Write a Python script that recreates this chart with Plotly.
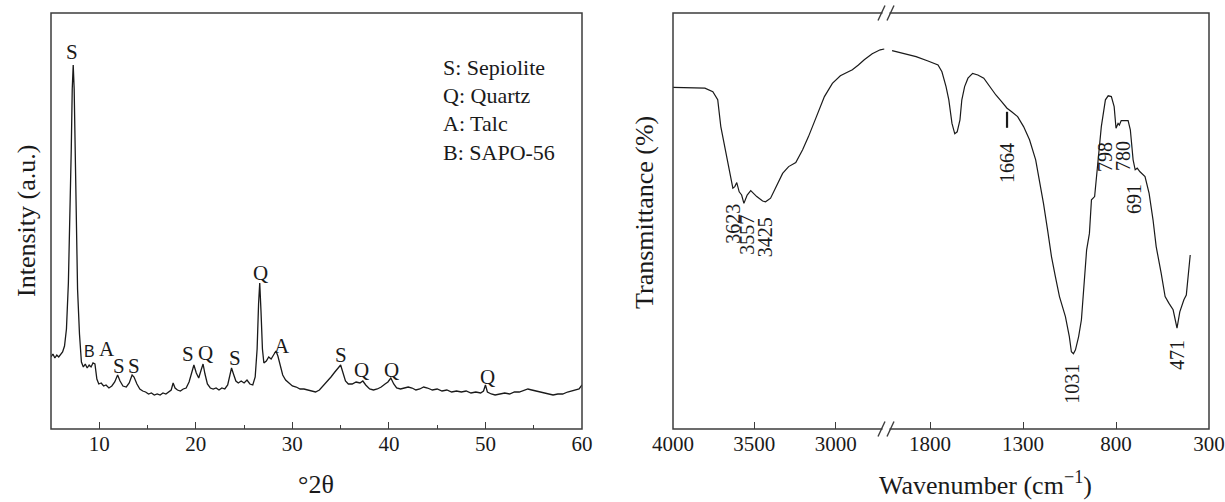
import plotly.graph_objects as go

W, H = 1225, 502
FONT = "Liberation Serif, Times New Roman, serif"
INK = "#1a1a1a"
FRAME = "#3c3c3c"

# ---------------- XRD pattern ----------------
xrd_2theta = [5.0, 5.2, 5.4, 5.6, 5.8, 6.0, 6.2, 6.4, 6.6, 6.8, 6.95, 7.1, 7.2, 7.3, 7.4, 7.5, 7.6,
              7.75, 7.95, 8.15, 8.35, 8.55, 8.75, 8.95, 9.15, 9.35, 9.55, 9.75, 9.95, 10.2, 10.45,
              10.7, 11.0, 11.3, 11.6, 11.9, 12.15, 12.45, 12.8, 13.1, 13.4, 13.6, 13.9, 14.2, 14.5,
              14.8, 15.1, 15.4, 15.7, 16.0, 16.3, 16.6, 16.9, 17.2, 17.45, 17.65, 17.85, 18.1, 18.4,
              18.7, 19.0, 19.3, 19.55, 19.8, 20.05, 20.3, 20.55, 20.75, 20.95, 21.2, 21.5, 21.8,
              22.1, 22.4, 22.7, 23.0, 23.3, 23.5, 23.7, 23.9, 24.15, 24.4, 24.7, 25.0, 25.3, 25.6,
              25.9, 26.15, 26.35, 26.5, 26.62, 26.75, 26.9, 27.05, 27.3, 27.55, 27.8, 28.05, 28.3,
              28.5, 28.75, 29.0, 29.3, 29.6, 30.0, 30.4, 30.8, 31.2, 31.6, 32.0, 32.4, 32.8, 33.2,
              33.6, 34.0, 34.4, 34.7, 35.0, 35.25, 35.5, 35.8, 36.2, 36.6, 37.0, 37.3, 37.6, 38.0,
              38.4, 38.8, 39.2, 39.6, 39.9, 40.2, 40.5, 40.8, 41.2, 41.6, 42.0, 42.4, 42.8, 43.2,
              43.6, 44.0, 44.5, 45.0, 45.5, 46.0, 46.5, 47.0, 47.5, 48.0, 48.5, 49.0, 49.5, 49.8,
              50.0, 50.2, 50.6, 51.0, 51.5, 52.0, 52.5, 53.0, 53.5, 54.0, 54.4, 54.8, 55.2, 55.6,
              56.0, 56.5, 57.0, 57.5, 58.0, 58.5, 59.0, 59.4, 59.7, 60.0]
xrd_intensity = [72, 75, 71, 74, 72, 75, 77, 83, 100, 146, 200, 280, 340, 364, 340, 270, 200,
                 140, 95, 67, 62, 65, 61, 64, 62, 66, 65, 50, 45, 46, 43,
                 44, 41, 43, 47, 54, 48, 43, 42, 46, 54, 52, 45, 40, 38,
                 37, 35, 36, 34, 35, 34, 36, 35, 37, 39, 46, 41, 39, 38,
                 40, 41, 47, 56, 64, 56, 51, 59, 65, 55, 45, 41, 40,
                 41, 39, 41, 40, 44, 52, 61, 55, 48, 46, 48, 46, 49, 45,
                 44, 52, 80, 125, 146, 118, 80, 66, 68, 72, 70, 74, 78,
                 73, 62, 54, 49, 46, 43, 42, 40, 40, 39, 38, 37, 39, 43,
                 48, 52, 57, 60, 64, 56, 48, 45, 45, 47, 46, 48, 44, 40,
                 39, 40, 42, 45, 47, 51, 45, 41, 40, 41, 42, 41, 39, 40,
                 42, 41, 39, 40, 38, 39, 37, 38, 37, 38, 36, 37, 36, 38,
                 44, 37, 35, 34, 35, 36, 35, 37, 37, 39, 40, 39, 38, 37,
                 36, 35, 34, 35, 35, 37, 38, 39, 40, 44]

# phase markers above the reflections
xrd_mark_2theta = [7.18, 10.81, 12.0, 13.58, 19.24, 21.02, 24.06, 26.71, 28.93, 35.06, 37.15, 40.28, 50.2]
xrd_mark_intensity = [377, 80, 63, 63, 75, 76, 71.5, 156, 83, 74, 59, 59, 52]
xrd_mark_text = ["S", "A", "S", "S", "S", "Q", "S", "Q", "A", "S", "Q", "Q", "Q"]
xrd_b_2theta, xrd_b_intensity = 9.03, 78

legend_lines = ["S: Sepiolite", "Q: Quartz", "A: Talc", "B: SAPO-56"]

# ---------------- FTIR spectrum ----------------
# 4000 - 2700 cm-1 segment
ftir_hi_wn = [4000, 3804, 3755, 3725, 3706, 3681, 3652, 3632, 3620, 3608, 3593, 3578, 3564, 3544,
              3522, 3485, 3449, 3431, 3400, 3363, 3326, 3289, 3245, 3203, 3167, 3118, 3069, 3020,
              2971, 2922, 2897, 2860, 2824, 2775, 2726, 2701]
ftir_hi_t = [85.4, 85.2, 84.3, 82.3, 75.6, 70.6, 64.8, 60.2, 60.6, 61.6, 59.3, 58.5, 56.4, 58.5,
             59.6, 58.1, 57.0, 56.8, 57.7, 60.6, 63.9, 65.6, 66.6, 69.8, 73.1, 78.1, 83.1, 86.4,
             88.3, 89.3, 89.8, 91.0, 92.3, 93.8, 94.8, 95.0]
# 2000 - 400 cm-1 segment
ftir_lo_wn = [2004, 1939, 1875, 1811, 1757, 1736, 1714, 1699, 1682, 1667, 1654, 1639, 1629, 1614,
              1596, 1571, 1543, 1511, 1479, 1446, 1414, 1386, 1361, 1329, 1297, 1265, 1232, 1211,
              1190, 1168, 1147, 1126, 1104, 1072, 1051, 1040, 1029, 1018, 1001, 986, 971, 958,
              943, 932, 915, 900, 879, 857, 842, 825, 810, 800, 789, 782, 772, 735, 723, 708,
              697, 686, 671, 644, 622, 601, 584, 557, 536, 515, 493, 472, 457, 435, 422, 401]
ftir_lo_t = [94.6, 93.9, 93.1, 92.0, 91.0, 89.3, 85.6, 82.3, 76.4, 73.8, 74.3, 77.3, 82.3, 85.6,
             87.7, 88.9, 88.5, 87.7, 85.6, 83.5, 81.8, 80.2, 79.3, 78.1, 75.6, 72.3, 67.3, 62.3,
             56.4, 49.8, 43.1, 38.1, 33.1, 28.1, 23.1, 19.3, 18.8, 19.8, 23.1, 27.3, 36.4, 44.8,
             48.9, 57.3, 58.1, 65.6, 75.6, 82.3, 83.3, 83.1, 80.6, 75.2, 76.4, 76.0, 77.1, 77.1, 74.8, 67.3,
             64.8, 65.2, 64.3, 63.1, 58.9, 52.3, 45.6, 38.9, 33.1, 31.4, 29.8, 25.2, 29.3, 32.3, 33.5, 43.5]

band_hi_text = ["3623", "3557", "3425"]
band_hi_wn = [3631, 3547, 3437]
band_hi_t = [51.3, 48.5, 47.8]
band_lo_text = ["1664", "1031", "798", "780", "691", "471"]
band_lo_wn = [1386, 1037, 859, 762, 703, 472]
band_lo_t = [66.5, 11.3, 68.0, 68.3, 57.5, 18.5]
marker_1664_wn = 1386
marker_1664_t = [79.3, 75.3]

xrd_ticks = [10, 20, 30, 40, 50, 60]
xrd_minor = [15, 25, 35, 45, 55]
ftir_hi_ticks = [4000, 3500, 3000]
ftir_lo_ticks = [1800, 1300, 800, 300]

# ---------------- layout geometry (pixels) ----------------
L_X0, L_X1 = 51, 582
R_X0, R_XB, R_X1 = 673, 888, 1209
P_TOP, P_BOT = 13, 429


def px(x):
    return x / W


def py(y):
    return 1 - y / H


fig = go.Figure()

fig.add_trace(go.Scatter(x=xrd_2theta, y=xrd_intensity, mode="lines",
                         line=dict(color=INK, width=1.3), xaxis="x", yaxis="y",
                         showlegend=False, hoverinfo="skip"))
fig.add_trace(go.Scatter(x=ftir_hi_wn, y=ftir_hi_t, mode="lines",
                         line=dict(color=INK, width=1.2), xaxis="x2", yaxis="y2",
                         showlegend=False, hoverinfo="skip"))
fig.add_trace(go.Scatter(x=ftir_lo_wn, y=ftir_lo_t, mode="lines",
                         line=dict(color=INK, width=1.2), xaxis="x3", yaxis="y2",
                         showlegend=False, hoverinfo="skip"))
# short bar marking the 1664 band
fig.add_trace(go.Scatter(x=[marker_1664_wn, marker_1664_wn], y=marker_1664_t, mode="lines",
                         line=dict(color=INK, width=2.2), xaxis="x3", yaxis="y2",
                         showlegend=False, hoverinfo="skip"))

annotations = []
for t, x, y in zip(xrd_mark_text, xrd_mark_2theta, xrd_mark_intensity):
    annotations.append(dict(x=x, y=y, xref="x", yref="y", text=t, showarrow=False,
                            xanchor="center", yanchor="middle",
                            font=dict(family=FONT, size=21, color=INK)))
annotations.append(dict(x=xrd_b_2theta, y=xrd_b_intensity, xref="x", yref="y", text="B",
                        showarrow=False, xanchor="center", yanchor="middle",
                        font=dict(family="Liberation Sans", size=16, color=INK)))

for i, line in enumerate(legend_lines):
    annotations.append(dict(x=px(441), y=py(67 + 28.4 * i), xref="paper", yref="paper",
                            text=line, showarrow=False, xanchor="left", yanchor="middle",
                            font=dict(family=FONT, size=22, color=INK)))

for t, x, y in zip(band_hi_text, band_hi_wn, band_hi_t):
    annotations.append(dict(x=x, y=y, xref="x2", yref="y2", text=t, textangle=-90,
                            showarrow=False, xanchor="center", yanchor="middle",
                            font=dict(family=FONT, size=20, color=INK)))
for t, x, y in zip(band_lo_text, band_lo_wn, band_lo_t):
    annotations.append(dict(x=x, y=y, xref="x3", yref="y2", text=t, textangle=-90,
                            showarrow=False, xanchor="center", yanchor="middle",
                            font=dict(family=FONT, size=20, color=INK)))

# axis titles
title_font = dict(family=FONT, size=26, color=INK)
title_common = dict(xref="paper", yref="paper", showarrow=False, font=title_font,
                    xanchor="center", yanchor="middle")
annotations += [
    dict(x=px(26), y=py(221), text="Intensity (a.u.)", textangle=-90, **title_common),
    dict(x=px(316), y=py(484), text="°2θ", **title_common),
    dict(x=px(644), y=py(213), text="Transmittance (%)", textangle=-90, **title_common),
    dict(x=px(985), y=py(483), text="Wavenumber (cm<sup>−1</sup>)", **title_common),
]

shapes = []
frame_line = dict(color=FRAME, width=1.5)
for x0, x1 in [(L_X0, L_X1), (R_X0, R_X1)]:
    shapes.append(dict(type="rect", xref="paper", yref="paper", x0=px(x0), x1=px(x1),
                       y0=py(P_BOT), y1=py(P_TOP), line=frame_line, layer="above"))

# axis break marks on the top and bottom edges
for yb in (P_TOP, P_BOT):
    shapes.append(dict(type="rect", xref="paper", yref="paper", x0=px(882.5), x1=px(889.5),
                       y0=py(yb + 2), y1=py(yb - 2), line=dict(width=0), fillcolor="white",
                       layer="above"))
    for xc in (881.5, 890.5):
        shapes.append(dict(type="line", xref="paper", yref="paper",
                           x0=px(xc - 3.5), y0=py(yb + 7.5), x1=px(xc + 3.5), y1=py(yb - 7.5),
                           line=dict(color=FRAME, width=1.4), layer="above"))

tick_font = dict(family=FONT, size=21, color=INK)
common_x = dict(showgrid=False, zeroline=False, showline=False, ticks="inside", ticklen=7,
                tickwidth=1.4, tickcolor=FRAME, tickfont=tick_font, automargin=False)
common_y = dict(showgrid=False, zeroline=False, showline=False, showticklabels=False, ticks="",
                domain=[py(P_BOT), py(P_TOP)], automargin=False)

fig.update_layout(
    width=W, height=H, autosize=False,
    margin=dict(l=0, r=0, t=0, b=0, pad=0, autoexpand=False),
    paper_bgcolor="white", plot_bgcolor="white",
    xaxis=dict(domain=[px(L_X0), px(L_X1)], range=[5, 60], tickvals=xrd_ticks, anchor="y",
               minor=dict(tickvals=xrd_minor, ticks="inside", ticklen=4, tickwidth=1.2,
                          tickcolor=FRAME, showgrid=False),
               **common_x),
    yaxis=dict(range=[0, 416], anchor="x", **common_y),
    xaxis2=dict(domain=[px(R_X0), px(R_XB)], range=[4000, 2678], tickvals=ftir_hi_ticks,
                anchor="y2", **common_x),
    xaxis3=dict(domain=[px(R_XB), px(R_X1)], range=[2026, 300], tickvals=ftir_lo_ticks,
                anchor="y2", **common_x),
    yaxis2=dict(range=[0, 104], anchor="x2", **common_y),
    annotations=annotations,
    shapes=shapes,
)

fig.write_html("out.html")
